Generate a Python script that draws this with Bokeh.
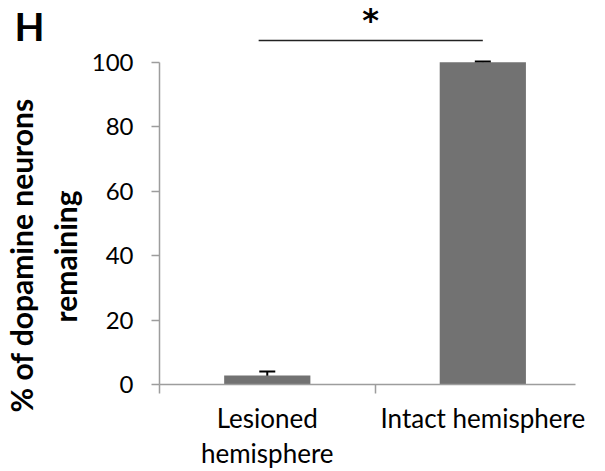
import math
from bokeh.plotting import figure
from bokeh.models import ColumnDataSource, FixedTicker, Label, Whisker, Range1d, Title
from bokeh.embed import file_html
from bokeh.resources import INLINE

# Percentage of dopamine neurons remaining per hemisphere
groups = ["Lesioned\nhemisphere", "Intact hemisphere"]
positions = [0.5, 1.5]
means = [2.8, 100.0]
errors = [1.2, 0.3]
y_ticks = [0, 20, 40, 60, 80, 100]

# Significance bracket between the two groups
sig_x = [0.46, 1.5]
sig_y = 106.8
sig_mark_y = 113.2
sig_mark = "*"

FONT = "Lato"

# the right side panel holds the panel letter, so the x range stops a little
# short of the last category boundary
p = figure(width=605, height=471, output_backend="svg", toolbar_location=None,
           x_range=Range1d(0, 1.93), y_range=Range1d(0, 119.2),
           min_border_left=155, min_border_right=0, min_border_top=0,
           min_border_bottom=86)
p.outline_line_color = None
p.grid.visible = False
p.background_fill_color = "white"
p.border_fill_color = "white"

src = ColumnDataSource(dict(
    x=positions, top=means,
    upper=[m + e for m, e in zip(means, errors)],
    lower=[m - e for m, e in zip(means, errors)],
))

p.vbar(x="x", top="top", width=0.4, source=src, fill_color="#727272", line_color=None)

whisker = Whisker(base="x", upper="upper", lower="lower", source=src,
                  line_color="black", line_width=2)
for head in (whisker.upper_head, whisker.lower_head):
    head.size = 16
    head.line_width = 2
    head.line_color = "black"
p.add_layout(whisker)

# significance line and asterisk
p.segment(x0=[sig_x[0]], y0=[sig_y], x1=[sig_x[1]], y1=[sig_y],
          line_color="#222222", line_width=1.5)
p.text(x=[sum(sig_x) / 2], y=[sig_mark_y], text=[sig_mark],
       text_font_size="32px", text_font_style="bold", text_align="center",
       text_baseline="alphabetic", text_color="black",
       text_font={"value": "DejaVu Sans"})

# x axis: labels under bar centres, ticks on category boundaries
xa = p.xaxis[0]
xa.ticker = FixedTicker(ticks=positions, minor_ticks=[0, 1, 2])
xa.major_label_overrides = {pos: g for pos, g in zip(positions, groups)}
xa.major_tick_out = 0
xa.major_tick_in = 0
xa.minor_tick_out = 9
xa.minor_tick_in = 0
xa.minor_tick_line_color = "#9d9d9d"
xa.minor_tick_line_width = 1.5
xa.axis_line_color = "#9d9d9d"
xa.axis_line_width = 1.5
xa.axis_label_standoff = 0
xa.major_label_standoff = 8
xa.major_label_text_font = FONT
xa.major_label_text_font_size = "26px"
xa.major_label_text_color = "black"
xa.major_label_text_line_height = 1.1

ya = p.yaxis[0]
ya.bounds = (0, 100)
ya.ticker = FixedTicker(ticks=y_ticks)
ya.minor_tick_line_color = None
ya.major_tick_out = 8
ya.major_tick_in = 0
ya.major_tick_line_color = "#9d9d9d"
ya.major_tick_line_width = 1.5
ya.axis_line_color = "#9d9d9d"
ya.axis_line_width = 1.5
ya.axis_label_standoff = 0
ya.major_label_standoff = 18
ya.major_label_text_font = FONT
ya.major_label_text_font_size = "24px"
ya.major_label_text_color = "black"

# y axis title, one line per side panel title
for line, off, gap in [("remaining", 62, 12), ("% of dopamine neurons", -28, 0)]:
    p.add_layout(Title(text=line, align="left", offset=off, text_font=FONT,
                       text_font_style="bold", text_font_size="30px",
                       text_color="black", standoff=gap), "left")

# panel letter (kept in a side panel so it is drawn outside the frame)
p.add_layout(Label(x=14, y=25, x_units="canvas", y_units="canvas",
                   text="H", text_font=FONT, text_font_style="bold",
                   text_font_size="39px", text_color="black",
                   text_baseline="alphabetic"), "right")

open("out.html", "w").write(file_html(p, INLINE))
